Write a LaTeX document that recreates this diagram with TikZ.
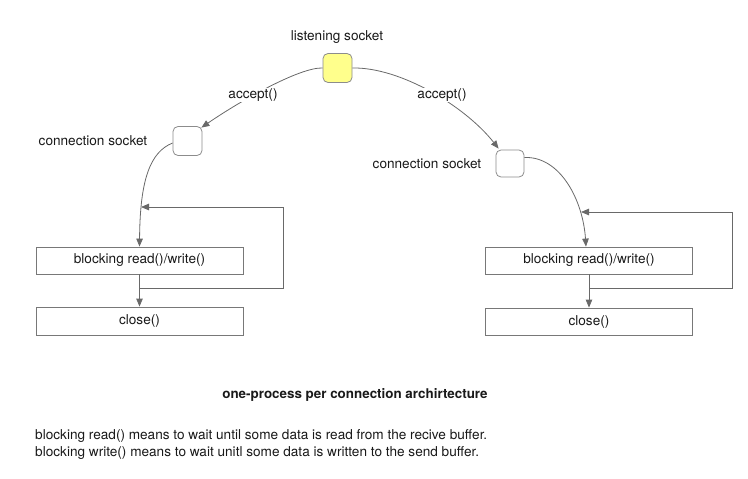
\documentclass[tikz,border=0pt]{standalone}
\usepackage{fontspec}
\setmainfont{TeX Gyre Heros}
\usetikzlibrary{arrows.meta}
\definecolor{sockyellow}{RGB}{255,255,140}
\definecolor{linegray}{RGB}{105,105,105}
\definecolor{boxgray}{RGB}{120,120,120}
\begin{document}
\begin{tikzpicture}[x=1pt,y=-1pt,
  every node/.style={font=\fontsize{13.6}{16}\selectfont, text=black!90},
  sock/.style={draw=boxgray!85, rounded corners=5pt, minimum width=29pt, minimum height=29pt, inner sep=0pt, line width=0.8pt},
  opbox/.style={draw=boxgray, minimum width=207pt, minimum height=27pt, inner sep=0pt, line width=0.8pt},
  conn/.style={draw=linegray, line width=0.8pt, -{Triangle[length=8pt,width=6.5pt]}},
  lbl/.style={fill=white, inner sep=1pt},
  note/.style={anchor=west, inner sep=0pt}
]
\useasboundingbox (0,0) rectangle (748,479);

% nodes
\node[sock, fill=sockyellow] (ls) at (337.5,68) {};
\node (lslbl) at (337,37) {listening socket};
\node[sock] (cs1) at (187.5,141) {};
\node (cs1lbl) at (93,141) {connection socket};
\node[sock, minimum width=28pt, minimum height=27pt] (cs2) at (510,163.5) {};
\node (cs2lbl) at (427,164) {connection socket};
\node[opbox] (rw1) at (139.5,260.5) {blocking read()/write()};
\node[opbox, minimum height=28pt] (cl1) at (139.5,321) {close()};
\node[opbox] (rw2) at (589,260.5) {blocking read()/write()};
\node[opbox] (cl2) at (589,321.5) {close()};

% accept curves
\draw[conn] (ls.west) .. controls (300,67) and (240,101) .. ([shift={(-1pt,-1.5pt)}]cs1.north east);
\node[lbl] (acc1) at (253,95) {accept()};
\draw[conn] (ls.east) .. controls (400,67) and (465,106) .. ([shift={(3pt,1pt)}]cs2.north west);
\node[lbl] (acc2) at (442,95) {accept()};

% socket to read/write
\draw[conn] ([yshift=-2pt]cs1.west) .. controls (150,152) and (140,180) .. (rw1.north);
\draw[conn] ([yshift=6pt]cs2.east) .. controls (560,156) and (583,200) .. ([xshift=-3pt]rw2.north);

% read/write to close and loops
\coordinate (j1) at (139.5,288);
\coordinate (r1) at (141,207);
\draw[conn] (rw1.south) -- (cl1.north);
\draw[conn] (j1) -- (283,288) -- (283,207) -- (r1);

\coordinate (j2) at (589,288);
\coordinate (r2) at (581,212);
\draw[conn] (rw2.south) -- (cl2.north);
\draw[conn] (j2) -- (732,288) -- (732,212) -- (r2);

% texts
\node[font=\fontsize{13.4}{16}\selectfont\bfseries] (title) at (355,395) {one-process per connection archirtecture};
\node[note] (n1) at (35,436) {blocking read() means to wait until some data is read from the recive buffer.};
\node[note] (n2) at (35,453) {blocking write() means to wait unitl some data is written to the send buffer.};
\end{tikzpicture}
\end{document}
